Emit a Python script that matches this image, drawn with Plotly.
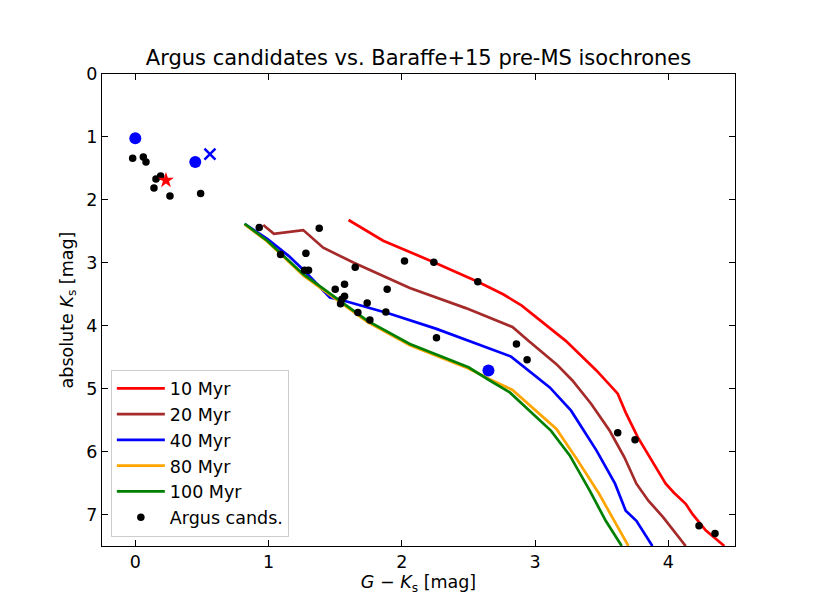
import plotly.graph_objects as go

# Baraffe+15 isochrones: G-Ks colour vs absolute Ks
iso10_gk = [1.60, 1.86, 2.24, 2.57, 2.76, 2.90, 3.23, 3.46, 3.62, 3.68, 3.77, 3.85, 3.90, 3.98, 4.04, 4.13, 4.18, 4.28, 4.42]
iso10_k = [2.32, 2.65, 2.99, 3.30, 3.50, 3.68, 4.24, 4.71, 5.08, 5.38, 5.77, 6.06, 6.22, 6.51, 6.65, 6.83, 6.99, 7.25, 7.50]

iso20_gk = [0.96, 1.04, 1.26, 1.41, 1.64, 2.06, 2.48, 2.83, 2.95, 3.16, 3.28, 3.42, 3.56, 3.67, 3.76, 3.85, 3.96, 4.04, 4.13]
iso20_k = [2.40, 2.54, 2.48, 2.76, 3.00, 3.40, 3.72, 4.02, 4.24, 4.61, 4.87, 5.24, 5.67, 6.09, 6.51, 6.78, 7.04, 7.25, 7.50]

iso40_gk = [0.82, 0.99, 1.15, 1.27, 1.46, 1.56, 1.91, 2.26, 2.82, 3.11, 3.27, 3.46, 3.60, 3.68, 3.76, 3.88]
iso40_k = [2.38, 2.62, 2.89, 3.13, 3.55, 3.60, 3.81, 4.05, 4.49, 4.98, 5.35, 5.98, 6.51, 6.94, 7.10, 7.50]

iso80_gk = [0.82, 0.99, 1.26, 1.54, 1.74, 2.06, 2.50, 2.66, 2.83, 3.16, 3.32, 3.48, 3.60, 3.70]
iso80_k = [2.39, 2.66, 3.20, 3.63, 3.94, 4.31, 4.68, 4.85, 5.02, 5.64, 6.14, 6.67, 7.12, 7.50]

iso100_gk = [0.82, 0.99, 1.26, 1.54, 1.74, 2.06, 2.50, 2.66, 2.81, 3.12, 3.26, 3.41, 3.53, 3.65]
iso100_k = [2.38, 2.65, 3.18, 3.62, 3.92, 4.29, 4.66, 4.87, 5.06, 5.67, 6.06, 6.62, 7.10, 7.50]

# Argus candidates
cand_gk = [-0.02, 0.06, 0.08, 0.155, 0.19, 0.14, 0.26, 0.49,
           0.93, 1.38, 1.09, 1.28, 1.27, 1.30, 1.65, 2.02, 2.24, 1.50, 1.57,
           1.57, 1.55, 1.54, 1.89, 1.74, 1.88, 1.67, 1.76, 2.26,
           2.86, 2.94, 2.57, 3.62, 3.75, 4.23, 4.35]
cand_k = [1.34, 1.32, 1.40, 1.67, 1.62, 1.81, 1.94, 1.90,
          2.44, 2.45, 2.87, 2.85, 3.12, 3.12, 3.07, 2.97, 2.99, 3.42, 3.34,
          3.53, 3.58, 3.65, 3.42, 3.64, 3.78, 3.79, 3.91, 4.19,
          4.29, 4.54, 3.30, 5.70, 5.81, 7.18, 7.30]

# highlighted objects
big_gk = [0.00, 0.45, 2.65]
big_k = [1.02, 1.40, 4.71]
star_gk = [0.23]
star_k = [1.69]
cross_gk = [0.56]
cross_k = [1.275]

isochrones = [
    ('10 Myr', iso10_gk, iso10_k, '#ff0000'),
    ('20 Myr', iso20_gk, iso20_k, '#a52a2a'),
    ('40 Myr', iso40_gk, iso40_k, '#0000ff'),
    ('80 Myr', iso80_gk, iso80_k, '#ffa500'),
    ('100 Myr', iso100_gk, iso100_k, '#008000'),
]

fig = go.Figure()
for name, gk, k, col in isochrones:
    fig.add_trace(go.Scatter(x=gk, y=k, mode='lines', name=name,
                             line=dict(color=col, width=2.7)))

fig.add_trace(go.Scatter(x=big_gk, y=big_k, mode='markers', showlegend=False,
                         marker=dict(color='#0000ff', size=12)))
fig.add_trace(go.Scatter(x=cand_gk, y=cand_k, mode='markers', name='Argus cands.',
                         marker=dict(color='black', size=7.5)))
fig.add_trace(go.Scatter(x=star_gk, y=star_k, mode='markers', showlegend=False,
                         marker=dict(color='#ff0000', size=12, symbol='star')))
fig.add_trace(go.Scatter(x=cross_gk, y=cross_k, mode='markers', showlegend=False,
                         marker=dict(color='#0000ff', size=11, symbol='x-thin',
                                     line=dict(color='#0000ff', width=2.5))))

axis_style = dict(showline=True, linecolor='black', linewidth=1.4, mirror='ticks',
                  ticks='inside', ticklen=6, tickwidth=1.4, tickcolor='black',
                  showgrid=False, zeroline=False, tickfont=dict(size=17.5, color='black'))

# the page body adds an 8px offset, so margins are shifted to compensate
fig.update_layout(
    width=817, height=613,
    margin=dict(l=94, r=90, t=66, b=75),
    paper_bgcolor='white', plot_bgcolor='white',
    font=dict(family='DejaVu Sans', color='black'),
    title=dict(text='Argus candidates vs. Baraffe+15 pre-MS isochrones',
               x=0.5, xref='paper', xanchor='center',
               y=1, yref='paper', yanchor='bottom', pad=dict(b=9),
               font=dict(size=21, color='black')),
    xaxis=dict(range=[-0.25, 4.5], tickvals=[0, 1, 2, 3, 4],
               title=dict(text='<i>G</i> − <i>K</i><sub>s</sub> [mag]', font=dict(size=17.5), standoff=4),
               **axis_style),
    yaxis=dict(range=[7.5, 0], tickvals=[0, 1, 2, 3, 4, 5, 6, 7],
               title=dict(text='absolute <i>K</i><sub>s</sub> [mag]', font=dict(size=17.5), standoff=8),
               **axis_style),
    legend=dict(x=0.014, y=0.02, xanchor='left', yanchor='bottom',
                bgcolor='rgba(255,255,255,0.8)', bordercolor='#cccccc', borderwidth=1,
                font=dict(size=17.5), tracegroupgap=0, itemwidth=48),
)

fig.write_html("out.html")
